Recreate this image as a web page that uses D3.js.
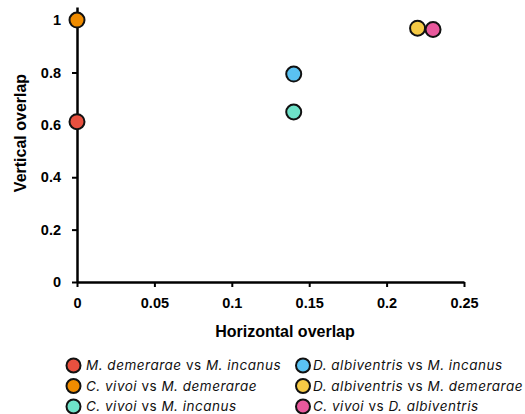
<!DOCTYPE html>
<html>
<head>
<meta charset="utf-8">
<style>
  body { margin: 0; background: #fff; }
  .tick text { font-family: "Liberation Sans", Arial, sans-serif; font-weight: bold; font-size: 14.5px; fill: #000; }
  .axtitle { font-family: "Liberation Sans", Arial, sans-serif; font-weight: bold; font-size: 16px; }
  .legend text { font-family: Inter, "Noto Sans", sans-serif; font-size: 13.5px; letter-spacing: 0.5px; fill: #111; }
</style>
</head>
<body>
<script src="https://cdn.jsdelivr.net/npm/d3@7"></script>
<script>
// data
var pairs = ["M. demerarae vs M. incanus", "C. vivoi vs M. demerarae", "C. vivoi vs M. incanus",
             "D. albiventris vs M. incanus", "D. albiventris vs M. demerarae", "C. vivoi vs D. albiventris"];
var horizontal = [0, 0, 0.14, 0.14, 0.22, 0.23];
var vertical = [0.612, 1.0, 0.649, 0.794, 0.969, 0.964];
var colors = ["#e8503f", "#f08c00", "#6ee2c8", "#5ac2f2", "#f6ca45", "#e8589c"];
var xTicks = [0, 0.05, 0.1, 0.15, 0.2, 0.25];
var yTicks = [0, 0.2, 0.4, 0.6, 0.8, 1];

var svg = d3.select("body").append("svg")
  .attr("width", 525).attr("height", 414);

var x = d3.scaleLinear().domain([0, 0.25]).range([77, 464]);
var y = d3.scaleLinear().domain([0, 1.05]).range([282, 7]);

// axes
var xAxis = svg.append("g").attr("transform", "translate(0,282)")
  .call(d3.axisBottom(x).tickValues(xTicks).tickSize(5).tickSizeOuter(0).tickPadding(11)
    .tickFormat(function(d){ return String(+d.toFixed(2)); }));
var yAxis = svg.append("g").attr("transform", "translate(77,0)")
  .call(d3.axisLeft(y).tickValues(yTicks).tickSize(5).tickSizeOuter(0).tickPadding(11)
    .tickFormat(function(d){ return String(+d.toFixed(1)); }));
[xAxis, yAxis].forEach(function(a){
  a.select(".domain").attr("stroke", "#000").attr("stroke-width", 2.5);
  a.selectAll(".tick line").attr("stroke", "#000").attr("stroke-width", 2);
});

svg.append("text").attr("class", "axtitle")
  .attr("x", 285).attr("y", 337).attr("text-anchor", "middle").text("Horizontal overlap");
svg.append("text").attr("class", "axtitle")
  .attr("transform", "translate(26,133) rotate(-90)").attr("text-anchor", "middle").text("Vertical overlap");

// points
svg.append("g").selectAll("circle")
  .data(pairs)
  .enter().append("circle")
  .attr("cx", function(d, i){ return x(horizontal[i]); })
  .attr("cy", function(d, i){ return y(vertical[i]); })
  .attr("r", 7.5)
  .attr("fill", function(d, i){ return colors[i]; })
  .attr("stroke", "#111").attr("stroke-width", 2);

// legend, two columns of three
var leg = svg.append("g").attr("class", "legend");
var item = leg.selectAll("g").data(pairs).enter().append("g")
  .attr("transform", function(d, i){
    var row = i % 3;
    return "translate(0," + (365.5 + row * 20.5) + ")";
  });
item.append("circle").attr("r", 7)
  .attr("cx", function(d, i){ return i < 3 ? 73.5 : 303; })
  .attr("fill", function(d, i){ return colors[i]; })
  .attr("stroke", "#111").attr("stroke-width", 2);
item.append("text")
  .attr("x", function(d, i){ return i < 3 ? 86 : 313; })
  .attr("y", 4.5)
  .each(function(d){
    var parts = d.split(" vs ");
    var t = d3.select(this);
    t.append("tspan").attr("font-style", "italic").text(parts[0]);
    t.append("tspan").text(" vs ");
    t.append("tspan").attr("font-style", "italic").text(parts[1]);
  });
</script>
</body>
</html>
